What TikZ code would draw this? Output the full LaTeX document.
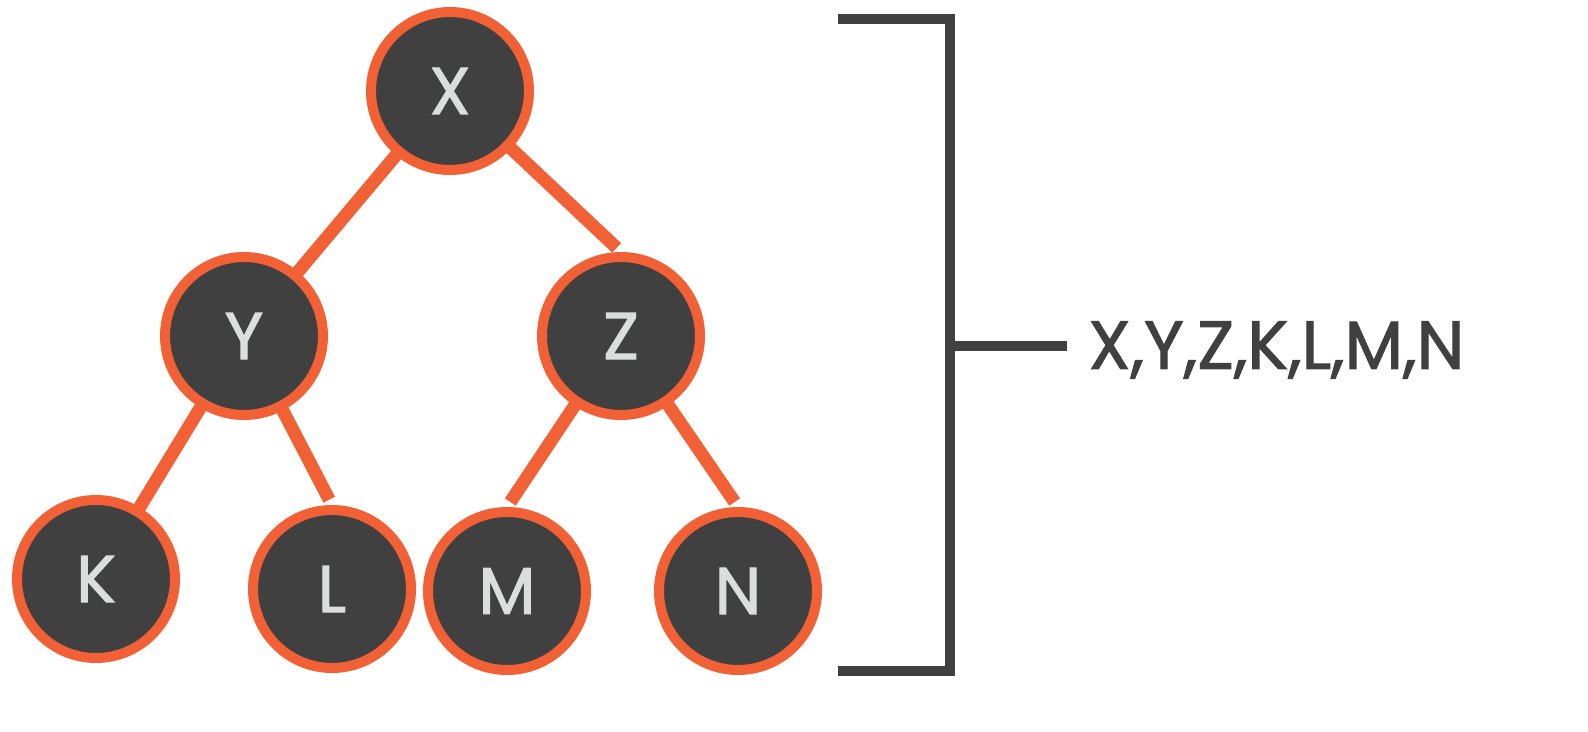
\documentclass[tikz,border=0pt]{standalone}
\usepackage{fontspec}
\setmainfont{Poppins}
\newfontfamily\medfont[FakeBold=1.6]{Poppins}
\usetikzlibrary{backgrounds}
\definecolor{og}{HTML}{F26135}
\definecolor{dk}{HTML}{404041}
\definecolor{lt}{HTML}{DCDEDD}
\begin{document}
\begin{tikzpicture}[x=0.5pt,y=-0.5pt,
  tn/.style={circle,draw=og,fill=dk,line width=5pt,minimum size=79pt,inner sep=0pt,text=lt,font=\medfont\fontsize{33}{33}\selectfont},
  ed/.style={og,line width=6.5pt},
  br/.style={dk,line width=5pt}]
\useasboundingbox (0,0) rectangle (1588,732);
\node[tn] (X) at (450,91) {X};
\node[tn] (Y) at (244,336) {Y};
\node[tn] (Z) at (621,336) {Z};
\node[tn] (K) at (96,579) {K};
\node[tn] (L) at (332,589) {L};
\node[tn] (M) at (507,591) {M};
\node[tn] (N) at (738,591) {N};
\begin{scope}[on background layer]
\draw[ed] (X.center) -- (Y.center); \draw[ed,shorten >=3pt] (X.center) -- (Z.north);
\draw[ed] (Y.center) -- (K.center); \draw[ed,shorten >=3pt] (Y.center) -- (L.north);
\draw[ed,shorten >=3pt] (Z.center) -- (M.north); \draw[ed,shorten >=3pt] (Z.center) -- (N.north);
\end{scope}
\coordinate (t0) at (838,19); \coordinate (t1) at (950,19);
\coordinate (b0) at (838,671); \coordinate (b1) at (950,671);
\coordinate (m0) at (950,346); \coordinate (m1) at (1067,346);
\draw[br] (t0) -- (t1) -- (b1) -- (b0);
\draw[br] (m0) -- (m1);
\node[anchor=west,text=dk,font=\medfont\fontsize{34}{34}\selectfont,inner sep=0pt] (lab) at (1088,350) {X,Y,Z,K,L,M,N};
\end{tikzpicture}
\end{document}
